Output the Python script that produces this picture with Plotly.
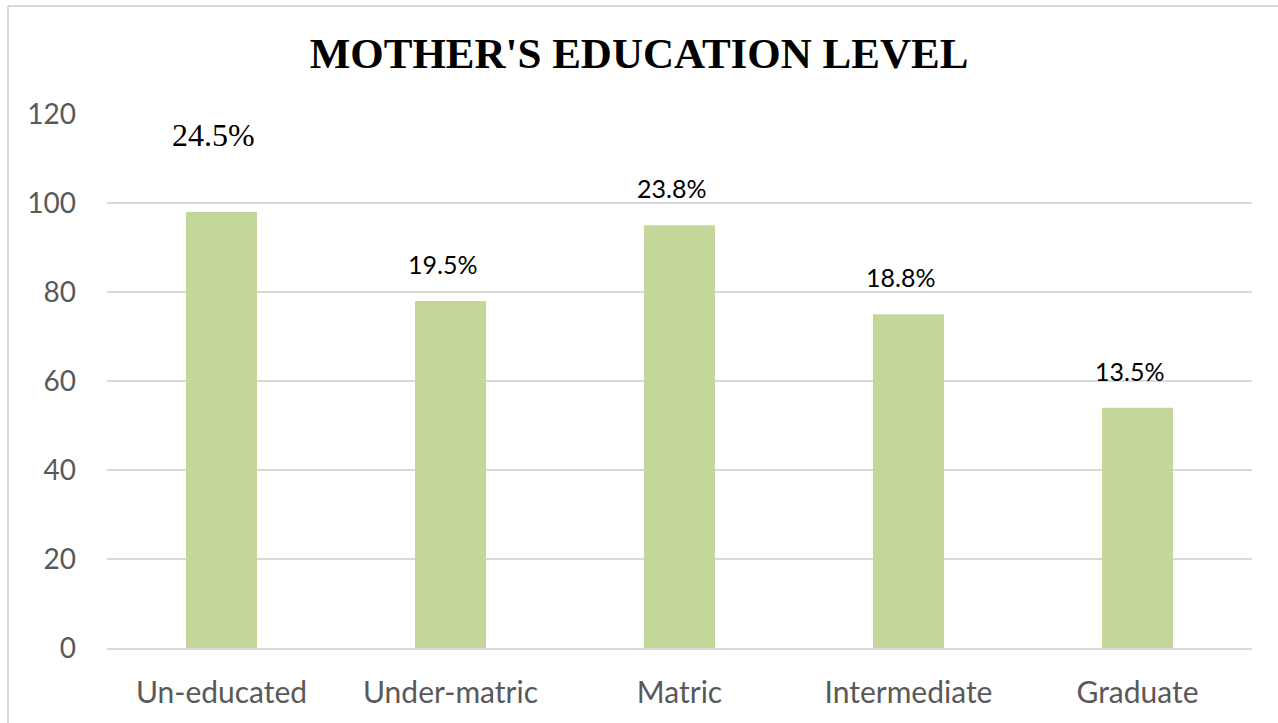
import plotly.graph_objects as go

categories = ["Un-educated", "Under-matric", "Matric", "Intermediate", "Graduate"]
counts = [98, 78, 95, 75, 54]
pct_labels = ["24.5%", "19.5%", "23.8%", "18.8%", "13.5%"]
y_ticks = [0, 20, 40, 60, 80, 100, 120]

L, R, T, B = 107, 26, 114, 75
W, H = 1278, 723
pw, ph = W - L - R, H - T - B

fig = go.Figure(go.Bar(
    x=categories, y=counts, marker=dict(color="#C4D79B", line=dict(width=0)),
    hoverinfo="x+y",
))

annots = []
for i, (c, v, t) in enumerate(zip(categories, counts, pct_labels)):
    if i == 0:
        font = dict(family="Liberation Serif, Times New Roman, serif", size=32, color="#000000")
        ys = 77
    else:
        font = dict(family="Lato, sans-serif", size=25, color="#000000")
        ys = 37
    annots.append(dict(x=c, y=v, xref="x", yref="y", text=t, showarrow=False,
                       yanchor="middle", yshift=ys, xshift=-8, font=font))

def px_to_paper_x(px):
    return (px - L) / pw

def px_to_paper_y(py):
    return (H - B - py) / ph

shapes = [
    dict(type="line", xref="paper", yref="paper",
         x0=px_to_paper_x(8), x1=px_to_paper_x(W + 5),
         y0=px_to_paper_y(6), y1=px_to_paper_y(6),
         line=dict(color="#D9D9D9", width=2)),
    dict(type="line", xref="paper", yref="paper",
         x0=px_to_paper_x(8), x1=px_to_paper_x(8),
         y0=px_to_paper_y(6), y1=px_to_paper_y(H + 5),
         line=dict(color="#D9D9D9", width=2)),
]

fig.update_layout(
    width=W, height=H,
    margin=dict(l=L, r=R, t=T, b=B, autoexpand=False),
    paper_bgcolor="white", plot_bgcolor="white",
    bargap=0.69,
    showlegend=False,
    title=dict(text="<b>MOTHER'S EDUCATION LEVEL</b>", x=0.5, xanchor="center",
               xref="container", yref="container", y=1 - 53 / H, yanchor="middle",
               font=dict(family="Liberation Serif, Times New Roman, serif", size=43, color="#000000")),
    annotations=annots,
    shapes=shapes,
)
fig.update_yaxes(range=[0, 120], tickvals=y_ticks, showgrid=True, gridcolor="#D9D9D9", gridwidth=2,
                 zeroline=False, showline=False, ticklabelstandoff=30,
                 tickfont=dict(family="Lato, sans-serif", size=28, color="#595959"))
fig.update_xaxes(showline=True, linecolor="#D9D9D9", linewidth=2, showgrid=False,
                 ticks="", ticklabelstandoff=17,
                 tickfont=dict(family="Lato, sans-serif", size=30, color="#595959"))

fig.write_html("out.html", config={"displayModeBar": False},
               post_script="document.body.style.margin='0';document.body.style.overflow='hidden';")
